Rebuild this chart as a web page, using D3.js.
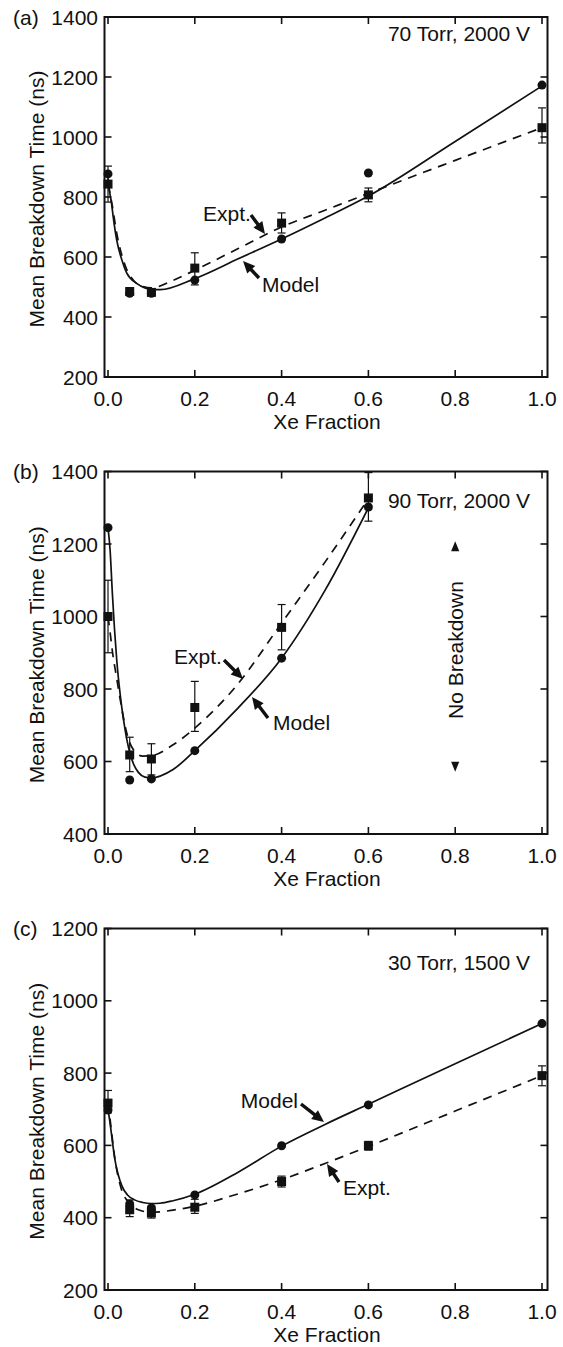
<!DOCTYPE html>
<html>
<head>
<meta charset="utf-8">
<script src="https://cdn.jsdelivr.net/npm/d3@7"></script>
<style>
  html, body { margin: 0; padding: 0; background: #fff; }
  svg text { font-family: "Liberation Sans", Arial, sans-serif; fill: #111; }
</style>
</head>
<body>
<svg id="chart" width="563" height="1347"></svg>
<script>
// ---- data ----
var xTicks = [0, 0.2, 0.4, 0.6, 0.8, 1.0];
var xTickLabels = ["0.0", "0.2", "0.4", "0.6", "0.8", "1.0"];

// (a) 70 Torr, 2000 V
var fracA = [0, 0.05, 0.1, 0.2, 0.4, 0.6, 1.0];
var modelPtsA = [877, 479, 479, 523, 660, 880, 1173];
var exptPtsA = [843, 485, 482, 563, 713, 807, 1031];
var exptLoA = [783, 475, 472, 507, 680, 784, 980];
var exptHiA = [903, 495, 492, 614, 747, 830, 1097];
var modelCurveA = [[0, 862], [0.004, 815], [0.008, 780], [0.012, 734], [0.02, 657], [0.032, 590],
  [0.043, 547], [0.066, 512], [0.085, 497], [0.1, 492], [0.12, 491], [0.2, 528], [0.3, 594],
  [0.4, 660], [0.5, 730], [0.6, 803], [0.8, 985], [1.0, 1170]];
var exptCurveA = [[0, 843], [0.01, 770], [0.02, 680], [0.04, 570], [0.06, 520], [0.08, 502],
  [0.1, 497], [0.15, 522], [0.2, 556], [0.3, 628], [0.4, 700], [0.5, 756], [0.6, 812],
  [0.8, 922], [1.0, 1031]];

// (b) 90 Torr, 2000 V
var fracB = [0, 0.05, 0.1, 0.2, 0.4, 0.6];
var modelPtsB = [1245, 549, 552, 630, 885, 1302];
var exptPtsB = [1000, 618, 607, 749, 970, 1327];
var exptLoB = [900, 572, 563, 683, 908, 1263];
var exptHiB = [1100, 667, 649, 821, 1033, 1397];
var modelCurveB = [[0, 1245], [0.005, 1180], [0.01, 1065], [0.015, 965], [0.02, 882], [0.03, 765],
  [0.04, 683], [0.05, 625], [0.06, 590], [0.07, 570], [0.085, 557], [0.1, 555], [0.15, 578],
  [0.2, 630], [0.3, 748], [0.4, 885], [0.5, 1072], [0.6, 1300]];
var exptCurveB = [[0, 1000], [0.005, 955], [0.01, 905], [0.02, 830], [0.03, 758], [0.04, 695],
  [0.05, 652], [0.06, 630], [0.08, 615], [0.1, 616], [0.15, 646], [0.2, 692], [0.3, 815],
  [0.4, 982], [0.5, 1150], [0.6, 1325]];

// (c) 30 Torr, 1500 V
var fracC = [0, 0.05, 0.1, 0.2, 0.4, 0.6, 1.0];
var modelPtsC = [698, 438, 427, 463, 599, 712, 937];
var exptPtsC = [717, 422, 413, 429, 500, 599, 793];
var exptLoC = [690, 403, 399, 412, 485, 587, 765];
var exptHiC = [752, 449, 432, 451, 515, 611, 820];
var modelCurveC = [[0, 700], [0.004, 668], [0.016, 560], [0.032, 488], [0.045, 463], [0.06, 450],
  [0.08, 442], [0.1, 439], [0.12, 440], [0.15, 447], [0.2, 465], [0.3, 526], [0.4, 598],
  [0.5, 658], [0.6, 714], [0.8, 826], [1.0, 937]];
var exptCurveC = [[0, 718], [0.004, 680], [0.016, 562], [0.03, 482], [0.05, 440], [0.07, 422],
  [0.1, 415], [0.15, 421], [0.2, 432], [0.3, 466], [0.4, 505], [0.5, 550], [0.6, 597],
  [0.8, 695], [1.0, 793]];

var yTicksA = [200, 400, 600, 800, 1000, 1200, 1400];
var yTicksB = [400, 600, 800, 1000, 1200, 1400];
var yTicksC = [200, 400, 600, 800, 1000, 1200];

var yTitle = "Mean Breakdown Time (ns)";
var xTitle = "Xe Fraction";

// ---- layout ----
var FS = 21;
var svg = d3.select("#chart");
var x = d3.scaleLinear().domain([0, 1]).range([108, 542]);
var frameL = 104.5, frameR = 547.5;

var panels = [
  {tag: "(a)", note: "70 Torr, 2000 V", noteY: 33, top: 17, bottom: 377, dom: [200, 1400], yt: yTicksA,
   frac: fracA, mp: modelPtsA, ep: exptPtsA, lo: exptLoA, hi: exptHiA, mc: modelCurveA, ec: exptCurveA,
   labels: [
     {t: "Expt.", x: 203, y: 213, a: "start", from: [251, 215], to: [265, 234]},
     {t: "Model", x: 262, y: 284, a: "start", from: [259, 278], to: [243, 261]}]},
  {tag: "(b)", note: "90 Torr, 2000 V", noteY: 500, top: 471.5, bottom: 834, dom: [400, 1400], yt: yTicksB,
   frac: fracB, mp: modelPtsB, ep: exptPtsB, lo: exptLoB, hi: exptHiB, mc: modelCurveB, ec: exptCurveB,
   noBreak: true,
   labels: [
     {t: "Expt.", x: 174, y: 656, a: "start", from: [224, 660], to: [243, 679]},
     {t: "Model", x: 273, y: 722, a: "start", from: [268, 718], to: [252, 697]}]},
  {tag: "(c)", note: "30 Torr, 1500 V", noteY: 962, top: 928.5, bottom: 1290, dom: [200, 1200], yt: yTicksC,
   frac: fracC, mp: modelPtsC, ep: exptPtsC, lo: exptLoC, hi: exptHiC, mc: modelCurveC, ec: exptCurveC,
   labels: [
     {t: "Model", x: 298, y: 1100, a: "end", from: [301, 1104], to: [324, 1122]},
     {t: "Expt.", x: 343, y: 1187, a: "start", from: [339, 1182], to: [327, 1164]}]}
];

function label(g, px, py, s, anchor, rot) {
  var tr = "translate(" + px + "," + py + ")" + (rot ? " rotate(" + rot + ")" : "");
  return g.append("text")
    .attr("transform", tr)
    .attr("text-anchor", anchor)
    .attr("dy", "0.36em")
    .style("font-size", FS + "px")
    .text(s);
}

// fat filled arrow like the ones in the figure
function arrow(g, from, to) {
  var dx = to[0] - from[0], dy = to[1] - from[1];
  var L = Math.sqrt(dx * dx + dy * dy), ang = Math.atan2(dy, dx) * 180 / Math.PI;
  var hl = 12, hw = 5.5, sw = 1.7;
  var pts = [[0, -sw], [L - hl, -sw], [L - hl, -hw], [L, 0], [L - hl, hw], [L - hl, sw], [0, sw]];
  g.append("polygon")
    .attr("points", pts.map(function(p) { return p.join(","); }).join(" "))
    .attr("transform", "translate(" + from[0] + "," + from[1] + ") rotate(" + ang + ")")
    .attr("fill", "#111");
}

panels.forEach(function(p) {
  var y = d3.scaleLinear().domain(p.dom).range([p.bottom, p.top]);
  var g = svg.append("g");

  // ticks, inward on all four sides
  var tk = 7;
  p.yt.forEach(function(v) {
    g.append("line").attr("x1", frameL).attr("x2", frameL + tk).attr("y1", y(v)).attr("y2", y(v));
    g.append("line").attr("x1", frameR).attr("x2", frameR - tk).attr("y1", y(v)).attr("y2", y(v));
    label(g, 98, y(v), String(v), "end");
  });
  xTicks.forEach(function(v, i) {
    g.append("line").attr("x1", x(v)).attr("x2", x(v)).attr("y1", p.bottom).attr("y2", p.bottom - tk);
    g.append("line").attr("x1", x(v)).attr("x2", x(v)).attr("y1", p.top).attr("y2", p.top + tk);
    label(g, x(v), p.bottom + 21, xTickLabels[i], "middle");
  });
  g.selectAll("line").attr("stroke", "#111").attr("stroke-width", 1.6);

  g.append("rect")
    .attr("x", frameL).attr("y", p.top)
    .attr("width", frameR - frameL).attr("height", p.bottom - p.top)
    .attr("fill", "none").attr("stroke", "#111").attr("stroke-width", 2);

  label(g, 13, p.top, p.tag, "start");
  label(g, 530, p.noteY, p.note, "end");
  label(g, 327, p.bottom + 44, xTitle, "middle");
  label(g, 36, (p.top + p.bottom) / 2 + 2, yTitle, "middle", -90);

  // curves
  var line = d3.line()
    .x(function(d) { return x(d[0]); })
    .y(function(d) { return y(d[1]); })
    .curve(d3.curveMonotoneX);
  g.append("path").attr("d", line(p.mc))
    .attr("fill", "none").attr("stroke", "#111").attr("stroke-width", 1.7);
  g.append("path").attr("d", line(p.ec))
    .attr("fill", "none").attr("stroke", "#111").attr("stroke-width", 1.7)
    .attr("stroke-dasharray", "9,7");

  // error bars
  p.frac.forEach(function(f, i) {
    var cx = x(f);
    g.append("line").attr("x1", cx).attr("x2", cx).attr("y1", y(p.lo[i])).attr("y2", y(p.hi[i]));
    g.append("line").attr("x1", cx - 4).attr("x2", cx + 4).attr("y1", y(p.lo[i])).attr("y2", y(p.lo[i]));
    g.append("line").attr("x1", cx - 4).attr("x2", cx + 4).attr("y1", y(p.hi[i])).attr("y2", y(p.hi[i]));
  });
  g.selectAll("line").filter(function() { return !this.getAttribute("stroke"); })
    .attr("stroke", "#111").attr("stroke-width", 1.2);

  // markers
  g.selectAll("rect.sq").data(p.frac).enter().append("rect")
    .attr("class", "sq")
    .attr("x", function(f) { return x(f) - 4.5; })
    .attr("y", function(f, i) { return y(p.ep[i]) - 4.5; })
    .attr("width", 9).attr("height", 9).attr("fill", "#111");
  g.selectAll("circle").data(p.frac).enter().append("circle")
    .attr("cx", function(f) { return x(f); })
    .attr("cy", function(f, i) { return y(p.mp[i]); })
    .attr("r", 4.5).attr("fill", "#111");

  p.labels.forEach(function(l) {
    label(g, l.x, l.y, l.t, l.a);
    arrow(g, l.from, l.to);
  });

  if (p.noBreak) {
    var nx = x(0.8);
    label(g, nx, 650, "No Breakdown", "middle", -90);
    g.append("path").attr("d", d3.symbol(d3.symbolTriangle, 40)())
      .attr("transform", "translate(" + nx + "," + 548 + ") scale(0.85,1.2)").attr("fill", "#111");
    g.append("path").attr("d", d3.symbol(d3.symbolTriangle, 40)())
      .attr("transform", "translate(" + nx + "," + 765 + ") scale(0.85,-1.2)").attr("fill", "#111");
  }
});
</script>
</body>
</html>
